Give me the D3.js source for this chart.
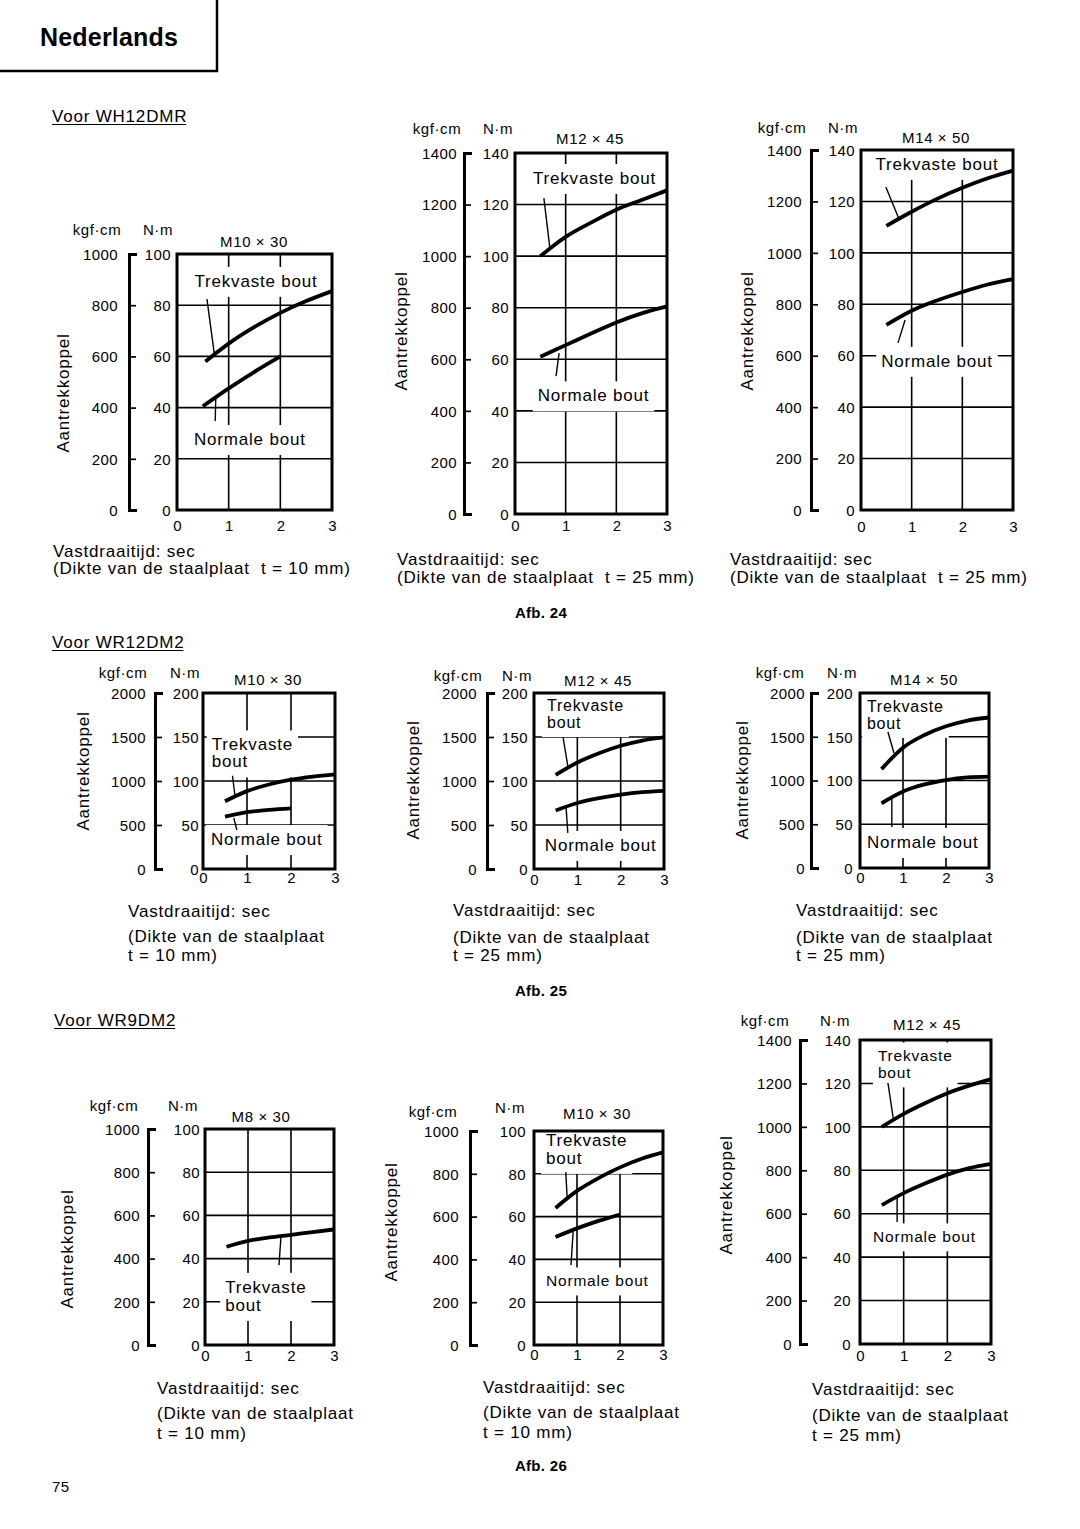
<!DOCTYPE html>
<html><head><meta charset="utf-8">
<script src="https://cdn.jsdelivr.net/npm/d3@7"></script>
<style>
html,body{margin:0;padding:0;background:#fff;}
svg{display:block;font-family:"Liberation Sans",Arial,Helvetica,sans-serif;}
text{fill:#000;}
</style></head><body>
<svg id="c" width="1080" height="1529"></svg>
<script>
// ---------- data ----------
const secTicks = [0, 1, 2, 3];
const nm100 = [0, 20, 40, 60, 80, 100];
const kgf1000 = [0, 200, 400, 600, 800, 1000];
const nm140 = [0, 20, 40, 60, 80, 100, 120, 140];
const kgf1400 = [0, 200, 400, 600, 800, 1000, 1200, 1400];
const nm200 = [0, 50, 100, 150, 200];
const kgf2000 = [0, 500, 1000, 1500, 2000];

const wh12_m10_trek = [[0.55,58],[1,65],[1.5,71.5],[2,77],[2.5,81.6],[3,85.5]];
const wh12_m10_norm = [[0.5,40.5],[1,47.5],[1.5,54],[2,60]];
const wh12_m12_trek = [[0.5,100],[1,107.5],[1.5,113],[2,118],[2.5,121.8],[3,125.5]];
const wh12_m12_norm = [[0.5,61],[1,65.5],[1.5,70],[2,74.3],[2.5,77.8],[3,80.5]];
const wh12_m14_trek = [[0.5,110.5],[1,116],[1.5,121],[2,125.3],[2.5,129],[3,132]];
const wh12_m14_norm = [[0.5,72],[1,77.5],[1.5,81.5],[2,84.8],[2.5,87.7],[3,89.8]];
const wr12_m10_trek = [[0.5,77],[1,88.5],[1.5,96],[2,101.5],[2.5,105],[3,107.5]];
const wr12_m10_norm = [[0.5,59.5],[1,64.5],[1.5,67.3],[2,69]];
const wr12_m12_trek = [[0.5,107],[1,121],[1.5,131.5],[2,140],[2.5,146],[3,149.5]];
const wr12_m12_norm = [[0.5,66.5],[1,75],[1.5,80.5],[2,84.5],[2.5,87.3],[3,88.8]];
const wr12_m14_trek = [[0.5,113],[1,137.5],[1.5,152],[2,162],[2.5,168.5],[3,172]];
const wr12_m14_norm = [[0.5,74],[1,87.5],[1.5,95.5],[2,100.5],[2.5,103.5],[3,104.5]];
const wr9_m8_trek = [[0.5,45.5],[1,48.2],[1.5,49.8],[2,51],[2.5,52.3],[3,53.5]];
const wr9_m10_trek = [[0.5,64],[1,72],[1.5,78],[2,83],[2.5,87],[3,90]];
const wr9_m10_norm = [[0.5,50.5],[1,54.5],[1.5,58],[2,61]];
const wr9_m12_trek = [[0.5,100],[1,106],[1.5,111],[2,115.5],[2.5,119],[3,122]];
const wr9_m12_norm = [[0.5,64],[1,69.5],[1.5,74],[2,78],[2.5,81],[3,83]];

// ---------- layout ----------
const panels = [
 {L:177,R:332,T:254,B:510,nm:nm100,kgf:kgf1000,bx:129,kp:11,np:6,xdy:16,
  kgfXY:[97,230],nmXY:[158,230],title:"M10 × 30",tXY:[254,242],yl:[63,393],
  series:[wh12_m10_trek,wh12_m10_norm],
  labels:[{lines:["Trekvaste bout"],x:1.53,ys:[89.5],anchor:"middle"},{lines:["Normale bout"],x:1.41,ys:[27.7],anchor:"middle"}],
  leaders:[[[0.58,82.4],[0.72,61.3]],[[0.75,43.75],[0.74,34.8]]],
  foot:[["Vastdraaitijd: sec",53,551],["(Dikte van de staalplaat  t = 10 mm)",53,568]]},
 {L:515,R:667,T:153,B:514,nm:nm140,kgf:kgf1400,bx:464,kp:7,np:6,xdy:12,
  kgfXY:[437,129],nmXY:[498,129],title:"M12 × 45",tXY:[590,139],yl:[401,331],
  series:[wh12_m12_trek,wh12_m12_norm],
  labels:[{lines:["Trekvaste bout"],x:1.57,ys:[130.3],anchor:"middle"},{lines:["Normale bout"],x:1.55,ys:[46],anchor:"middle"}],
  leaders:[[[0.57,122.5],[0.69,102.8]],[[0.87,62.4],[0.81,53.5]]],
  foot:[["Vastdraaitijd: sec",397,559],["(Dikte van de staalplaat  t = 25 mm)",397,577]]},
 {L:861,R:1013,T:150,B:510,nm:nm140,kgf:kgf1400,bx:811,kp:9,np:6,xdy:17,
  kgfXY:[782,128],nmXY:[843,128],title:"M14 × 50",tXY:[936,138],yl:[747,331],
  series:[wh12_m14_trek,wh12_m14_norm],
  labels:[{lines:["Trekvaste bout"],x:1.5,ys:[134.6],anchor:"middle"},{lines:["Normale bout"],x:1.5,ys:[58],anchor:"middle"}],
  leaders:[[[0.49,125.6],[0.75,113.2]],[[0.87,73.9],[0.73,65]]],
  foot:[["Vastdraaitijd: sec",730,559],["(Dikte van de staalplaat  t = 25 mm)",730,577]]},
 {L:203,R:335,T:693,B:869,nm:nm200,kgf:kgf2000,bx:155,kp:9,np:4,xdy:9,
  kgfXY:[123,673],nmXY:[185,673],title:"M10 × 30",tXY:[268,680],yl:[83,771],
  series:[wr12_m10_trek,wr12_m10_norm],
  labels:[{lines:["Trekvaste","bout"],x:0.2,ys:[141.5,122.2]},{lines:["Normale bout"],x:0.18,ys:[34]}],
  leaders:[[[0.67,106],[0.73,82]],[[0.7,58],[0.77,44.3]]],
  foot:[["Vastdraaitijd: sec",128,911],["(Dikte van de staalplaat",128,936],["t = 10 mm)",128,955]]},
 {L:534,R:664,T:693,B:869,nm:nm200,kgf:kgf2000,bx:487,kp:10,np:6,xdy:11,
  kgfXY:[458,676],nmXY:[517,676],title:"M12 × 45",tXY:[598,681],yl:[413,780],
  series:[wr12_m12_trek,wr12_m12_norm],
  labels:[{lines:["Trekvaste","bout"],x:0.3,ys:[186,166.5],fs:16},{lines:["Normale bout"],x:0.25,ys:[27.3]}],
  leaders:[[[0.67,150],[0.78,117]],[[0.74,70.5],[0.78,41]]],
  foot:[["Vastdraaitijd: sec",453,910],["(Dikte van de staalplaat",453,937],["t = 25 mm)",453,955]]},
 {L:860,R:989,T:693,B:868,nm:nm200,kgf:kgf2000,bx:811,kp:6,np:7,xdy:10,
  kgfXY:[780,673],nmXY:[842,673],title:"M14 × 50",tXY:[924,680],yl:[742,780],
  series:[wr12_m14_trek,wr12_m14_norm],
  labels:[{lines:["Trekvaste","bout"],x:0.16,ys:[185,165.3],fs:16},{lines:["Normale bout"],x:0.16,ys:[29.7]}],
  leaders:[[[0.65,155.4],[0.79,131.4]],[[0.74,78.9],[0.74,46.9]]],
  foot:[["Vastdraaitijd: sec",796,910],["(Dikte van de staalplaat",796,937],["t = 25 mm)",796,955]]},
 {L:205,R:334,T:1129,B:1345,nm:nm100,kgf:kgf1000,bx:148,kp:8,np:5,xdy:11,
  kgfXY:[114,1106],nmXY:[183,1106],title:"M8 × 30",tXY:[261,1117],yl:[67,1249],
  series:[wr9_m8_trek],
  labels:[{lines:["Trekvaste","bout"],x:0.47,ys:[26.9,18.5]}],
  leaders:[[[1.77,50.9],[1.72,37]]],
  foot:[["Vastdraaitijd: sec",157,1388],["(Dikte van de staalplaat",157,1413],["t = 10 mm)",157,1433]]},
 {L:534,R:663,T:1131,B:1345,nm:nm100,kgf:kgf1000,bx:470,kp:11,np:8,xdy:10,
  kgfXY:[433,1112],nmXY:[510,1108],title:"M10 × 30",tXY:[597,1114],yl:[391,1222],
  series:[wr9_m10_trek,wr9_m10_norm],
  labels:[{lines:["Trekvaste","bout"],x:0.28,ys:[95.8,87.4]},{lines:["Normale bout"],x:0.28,ys:[29.9],fs:15.5}],
  leaders:[[[0.74,80.8],[0.77,69.2]],[[0.91,52.8],[0.86,37.4]]],
  foot:[["Vastdraaitijd: sec",483,1387],["(Dikte van de staalplaat",483,1412],["t = 10 mm)",483,1432]]},
 {L:860,R:991,T:1040,B:1344,nm:nm140,kgf:kgf1400,bx:800,kp:8,np:9,xdy:12,
  kgfXY:[765,1021],nmXY:[835,1021],title:"M12 × 45",tXY:[927,1025],yl:[726,1195],
  series:[wr9_m12_trek,wr9_m12_norm],
  labels:[{lines:["Trekvaste","bout"],x:0.41,ys:[132.6,124.8],fs:15.5},{lines:["Normale bout"],x:0.3,ys:[49.3],fs:15.5}],
  leaders:[[[0.64,120.2],[0.76,104.1]],[[0.85,67.2],[0.85,56.2]]],
  foot:[["Vastdraaitijd: sec",812,1389],["(Dikte van de staalplaat",812,1415],["t = 25 mm)",812,1435]]}
];

const sections = [
 {text:"Voor WH12DMR", x:52, y:116},
 {text:"Voor WR12DM2", x:52, y:642},
 {text:"Voor WR9DM2", x:54, y:1020}
];
const figs = [{text:"Afb. 24", y:613},{text:"Afb. 25", y:991},{text:"Afb. 26", y:1466}];

// ---------- drawing ----------
const svg = d3.select("#c");
const INK = "#000";

function txt(g, x, y, s, o = {}) {
  const t = g.append("text").attr("x", x).attr("y", y).attr("dy", "0.35em")
    .attr("font-size", o.fs || 17).attr("letter-spacing", o.ls ?? 0.8)
    .attr("text-anchor", o.anchor || "start").style("white-space", "pre").text(s);
  if (o.weight) t.attr("font-weight", o.weight);
  if (o.rot) t.attr("transform", `rotate(-90,${x},${y})`);
  return t;
}

// header box
svg.append("rect").attr("x", -3).attr("y", -3).attr("width", 220).attr("height", 74)
  .attr("fill", "none").attr("stroke", INK).attr("stroke-width", 2.5);
txt(svg, 40, 37, "Nederlands", {fs: 25, weight: "bold", ls: 0.2});

sections.forEach(s => {
  const t = txt(svg, s.x, s.y, s.text, {fs: 17, ls: 0.8});
  const bb = t.node().getBBox();
  svg.append("line").attr("x1", bb.x).attr("x2", bb.x + bb.width - 1)
    .attr("y1", s.y + 8.5).attr("y2", s.y + 8.5).attr("stroke", INK).attr("stroke-width", 1.2);
});
figs.forEach(f => txt(svg, 541, f.y, f.text, {fs: 15, weight: "bold", anchor: "middle", ls: 0.3}));
txt(svg, 52, 1487, "75", {fs: 15, ls: 0.4});

function drawPanel(p) {
  const g = svg.append("g");
  const ymax = p.nm[p.nm.length - 1], kmax = p.kgf[p.kgf.length - 1];
  const x = d3.scaleLinear().domain([0, 3]).range([p.L, p.R]);
  const y = d3.scaleLinear().domain([0, ymax]).range([p.B, p.T]);
  const yk = d3.scaleLinear().domain([0, kmax]).range([p.B, p.T]);

  // grid
  g.append("g").selectAll("line").data(p.nm.slice(1, -1)).join("line")
    .attr("x1", p.L).attr("x2", p.R).attr("y1", d => y(d)).attr("y2", d => y(d))
    .attr("stroke", INK).attr("stroke-width", 1.6);
  g.append("g").selectAll("line").data(secTicks.slice(1, -1)).join("line")
    .attr("x1", d => x(d)).attr("x2", d => x(d)).attr("y1", p.T).attr("y2", p.B)
    .attr("stroke", INK).attr("stroke-width", 1.6);

  // labels with white background
  p.labels.forEach(l => {
    const lg = g.append("g");
    l.lines.forEach((s, i) => txt(lg, x(l.x), y(l.ys[i]), s, {fs: l.fs || 17, anchor: l.anchor || "start", ls: 0.8}));
    const bb = lg.node().getBBox();
    lg.insert("rect", ":first-child").attr("x", bb.x - 5).attr("y", bb.y - 5)
      .attr("width", bb.width + 10).attr("height", bb.height + 11).attr("fill", "#fff");
  });

  // curves
  const line = d3.line().x(d => x(d[0])).y(d => y(d[1])).curve(d3.curveMonotoneX);
  g.append("g").selectAll("path").data(p.series).join("path").attr("d", line)
    .attr("fill", "none").attr("stroke", INK).attr("stroke-width", 3.8).attr("stroke-linecap", "butt");

  // leaders
  g.append("g").selectAll("line").data(p.leaders).join("line")
    .attr("x1", d => x(d[0][0])).attr("y1", d => y(d[0][1]))
    .attr("x2", d => x(d[1][0])).attr("y2", d => y(d[1][1]))
    .attr("stroke", INK).attr("stroke-width", 1.4);

  // frame
  g.append("rect").attr("x", p.L).attr("y", p.T).attr("width", p.R - p.L).attr("height", p.B - p.T)
    .attr("fill", "none").attr("stroke", INK).attr("stroke-width", 3);

  // N·m axis labels
  const ay = g.append("g").attr("transform", `translate(${p.L},0)`)
    .call(d3.axisLeft(y).tickValues(p.nm).tickSize(0).tickPadding(p.np).tickFormat(d3.format("d")));
  ay.select(".domain").remove();
  ay.attr("font-size", null).attr("font-family", null);
  ay.selectAll("text").attr("font-size", 15).attr("letter-spacing", 0.4).attr("fill", INK).attr("dy", "0.35em");

  // kgf·cm bracket axis
  const ak = g.append("g").attr("transform", `translate(${p.bx},0)`)
    .call(d3.axisLeft(yk).tickValues(p.kgf).tickSizeInner(-7).tickSizeOuter(-8).tickPadding(p.kp).tickFormat(d3.format("d")));
  ak.attr("font-size", null).attr("font-family", null);
  ak.select(".domain").attr("stroke", INK).attr("stroke-width", 3).attr("fill", "none");
  ak.selectAll(".tick line").attr("stroke", INK).attr("stroke-width", 1.7);
  ak.selectAll("text").attr("font-size", 15).attr("letter-spacing", 0.4).attr("fill", INK).attr("dy", "0.35em");

  // time axis labels
  const ax = g.append("g").attr("transform", `translate(0,${p.B + p.xdy})`)
    .call(d3.axisBottom(x).tickValues(secTicks).tickSize(0).tickPadding(0).tickFormat(d3.format("d")));
  ax.select(".domain").remove();
  ax.attr("font-size", null).attr("font-family", null);
  ax.selectAll("text").attr("font-size", 15).attr("fill", INK).attr("y", 0).attr("dy", "0.35em");

  // headers
  txt(g, p.kgfXY[0], p.kgfXY[1], "kgf·cm", {fs: 15, anchor: "middle", ls: 0.6});
  txt(g, p.nmXY[0], p.nmXY[1], "N·m", {fs: 15, anchor: "middle", ls: 0.6});
  txt(g, p.tXY[0], p.tXY[1], p.title, {fs: 15, anchor: "middle", ls: 0.6});
  txt(g, p.yl[0], p.yl[1], "Aantrekkoppel", {fs: 17, anchor: "middle", ls: 0.8, rot: true});

  // footers
  p.foot.forEach(f => txt(g, f[1], f[2], f[0], {fs: 17, ls: 0.8}));
}

panels.forEach(drawPanel);
</script>
</body></html>
